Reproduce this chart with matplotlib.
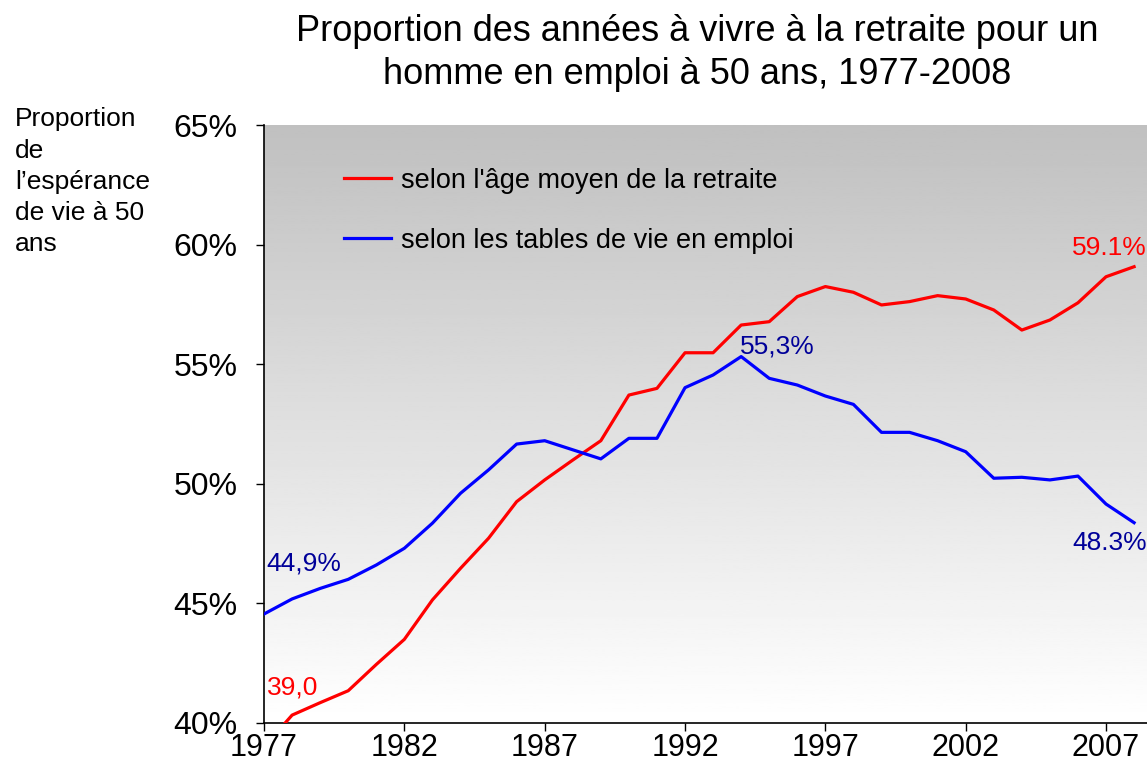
import matplotlib.pyplot as plt
import numpy as np

plt.rcParams['font.family'] = ['Liberation Sans', 'DejaVu Sans']

years = list(range(1977, 2009))
age_moyen = [39.0, 40.33, 40.85, 41.35, 42.45, 43.5, 45.15, 46.47, 47.73, 49.26,
             50.17, 51.0, 51.81, 53.72, 54.0, 55.49, 55.49, 56.65, 56.79, 57.84,
             58.26, 58.02, 57.49, 57.63, 57.88, 57.74, 57.28, 56.44, 56.86, 57.58,
             58.67, 59.09]
tables_vie = [44.56, 45.19, 45.63, 46.01, 46.61, 47.31, 48.36, 49.61, 50.59, 51.67,
              51.81, 51.43, 51.05, 51.91, 51.91, 54.03, 54.56, 55.33, 54.42, 54.14,
              53.68, 53.33, 52.16, 52.16, 51.81, 51.35, 50.24, 50.28, 50.17, 50.33,
              49.16, 48.38]
yticks = [40, 45, 50, 55, 60, 65]
xticks = [1977, 1982, 1987, 1992, 1997, 2002, 2007]

fig = plt.figure(figsize=(11.47, 7.73), dpi=100)
ax = fig.add_axes([0.2302, 0.0647, 0.7698, 0.773])

# fond en dégradé gris -> blanc
grad = np.linspace(0.753, 1.0, 256).reshape(-1, 1)
ax.imshow(grad, cmap='gray', vmin=0, vmax=1, aspect='auto',
          extent=[0, 1, 0, 1], transform=ax.transAxes, origin='upper', zorder=0)

ax.plot(years, age_moyen, color='#ff0000', lw=2.3, label="selon l'âge moyen de la retraite", zorder=3)
ax.plot(years, tables_vie, color='#0000ff', lw=2.3, label="selon les tables de vie en emploi", zorder=3)

ax.set_xlim(1977, 2008.46)
ax.set_ylim(40, 65)
ax.set_xticks(xticks)
ax.set_yticks(yticks)
ax.set_yticklabels([f"{v}%" for v in yticks])
ax.tick_params(axis='y', direction='out', length=6, width=1, pad=13, labelsize=23)
ax.tick_params(axis='x', direction='out', length=6, width=1, pad=1, labelsize=22)
for s in ['top', 'right']:
    ax.spines[s].set_visible(False)
for s in ['left', 'bottom']:
    ax.spines[s].set_linewidth(1.2)

# étiquettes de valeurs
ax.text(1977.1, 41.5, "39,0", color='#ff0000', fontsize=19, ha='left', va='center')
ax.text(1977.1, 46.69, "44,9%", color='#000099', fontsize=19, ha='left', va='center')
ax.text(1993.95, 55.77, "55,3%", color='#000099', fontsize=19, ha='left', va='center')
ax.text(2008.46, 59.87, "59.1%", color='#ff0000', fontsize=19, ha='right', va='center')
ax.text(2008.46, 47.53, "48.3%", color='#000099', fontsize=19, ha='right', va='center')

leg = ax.legend(loc='upper left', bbox_to_anchor=(0.063, 0.97), frameon=False,
                fontsize=19.5, handlelength=1.75, handletextpad=0.35, labelspacing=1.25)

fig.text(0.6077, 0.932, "Proportion des années à vivre à la retraite pour un\nhomme en emploi à 50 ans, 1977-2008",
         ha='center', va='center', fontsize=26, linespacing=1.3)
fig.text(0.013, 0.861, "Proportion\nde\nl’espérance\nde vie à 50\nans",
         ha='left', va='top', fontsize=19, linespacing=1.38)

fig.savefig('out.png', dpi=100)
